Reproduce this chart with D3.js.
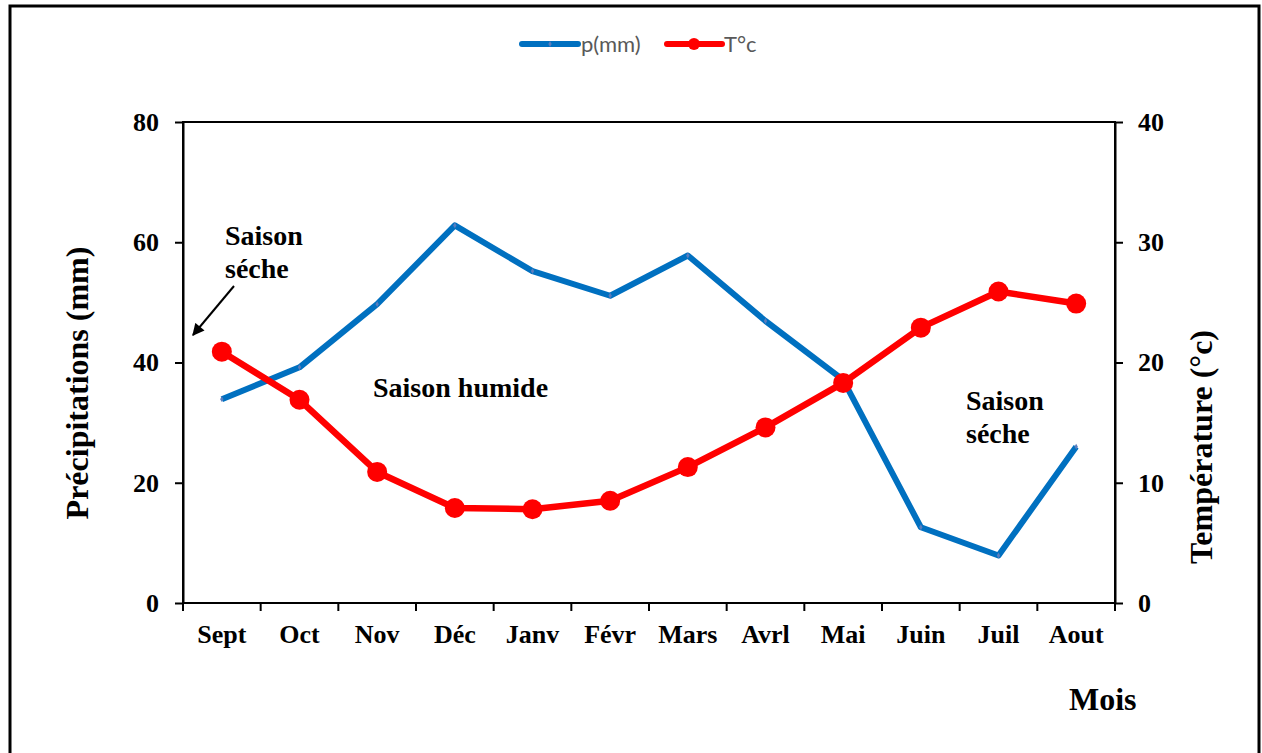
<!DOCTYPE html>
<html>
<head>
<meta charset="utf-8">
<script src="https://cdn.jsdelivr.net/npm/d3@7"></script>
<style>
  html, body { margin: 0; padding: 0; background: #fff; }
  svg { display: block; }
</style>
</head>
<body>
<svg id="chart" width="1262" height="753"></svg>
<script>
// Monthly climate data (hydrological year, September to August)
const months = ["Sept", "Oct", "Nov", "Déc", "Janv", "Févr", "Mars", "Avrl", "Mai", "Juin", "Juil", "Aout"];
const precipitation = [33.9, 39.2, 49.7, 62.8, 55.2, 51.1, 57.8, 46.9, 37.1, 12.6, 7.9, 26.0];
const temperature = [20.9, 16.9, 10.9, 7.9, 7.8, 8.5, 11.3, 14.6, 18.3, 22.9, 25.9, 24.9];
const precipTicks = [0, 20, 40, 60, 80];
const tempTicks = [0, 10, 20, 30, 40];

const svg = d3.select("#chart");
const serif = "'Liberation Serif', 'Times New Roman', serif";

const m = { left: 183, right: 1115, top: 122, bottom: 603 };

const x = d3.scaleBand().domain(months).range([m.left, m.right]).padding(0);
const yP = d3.scaleLinear().domain([0, 80]).range([m.bottom, m.top]);
const yT = d3.scaleLinear().domain([0, 40]).range([m.bottom, m.top]);

// Outer frame
svg.append("rect")
  .attr("x", 10).attr("y", 6).attr("width", 1249).attr("height", 780)
  .attr("fill", "none").attr("stroke", "#000").attr("stroke-width", 3);

// Plot area box
svg.append("rect")
  .attr("x", m.left).attr("y", m.top)
  .attr("width", m.right - m.left).attr("height", m.bottom - m.top)
  .attr("fill", "none").attr("stroke", "#000").attr("stroke-width", 2);

function styleAxis(g) {
  g.select(".domain").attr("stroke", "#000").attr("stroke-width", 2);
  g.selectAll(".tick line").attr("stroke", "#000").attr("stroke-width", 2);
  g.selectAll("text")
    .attr("font-family", serif).attr("font-weight", "bold")
    .attr("font-size", 26).attr("fill", "#000");
}

// Left axis (precipitation)
svg.append("g")
  .attr("transform", `translate(${m.left},0)`)
  .call(d3.axisLeft(yP).tickValues(precipTicks).tickSize(8).tickPadding(16).tickSizeOuter(0))
  .call(styleAxis);

// Right axis (temperature)
svg.append("g")
  .attr("transform", `translate(${m.right},0)`)
  .call(d3.axisRight(yT).tickValues(tempTicks).tickSize(8).tickPadding(15).tickSizeOuter(0))
  .call(styleAxis);

// Bottom axis: ticks at month boundaries, labels at month centres
const xAxis = svg.append("g").attr("transform", `translate(0,${m.bottom})`);
xAxis.append("line")
  .attr("x1", m.left).attr("x2", m.right).attr("y1", 0).attr("y2", 0)
  .attr("stroke", "#000").attr("stroke-width", 2);
const bounds = months.map(d => x(d)).concat([x(months[months.length - 1]) + x.bandwidth()]);
xAxis.selectAll("line.tk").data(bounds).join("line")
  .attr("class", "tk")
  .attr("x1", d => d).attr("x2", d => d).attr("y1", 0).attr("y2", 8)
  .attr("stroke", "#000").attr("stroke-width", 2);
xAxis.selectAll("text").data(months).join("text")
  .attr("x", d => x(d) + x.bandwidth() / 2)
  .attr("y", 40)
  .attr("text-anchor", "middle")
  .attr("font-family", serif).attr("font-weight", "bold")
  .attr("font-size", 26).attr("fill", "#000")
  .text(d => d);

// Axis titles
svg.append("text")
  .attr("transform", "translate(88,383) rotate(-90)")
  .attr("text-anchor", "middle")
  .attr("font-family", serif).attr("font-weight", "bold").attr("font-size", 32)
  .text("Précipitations (mm)");

svg.append("text")
  .attr("transform", "translate(1212,447) rotate(-90)")
  .attr("text-anchor", "middle")
  .attr("font-family", serif).attr("font-weight", "bold").attr("font-size", 32)
  .text("Température (°c)");

svg.append("text")
  .attr("x", 1069).attr("y", 710)
  .attr("font-family", serif).attr("font-weight", "bold").attr("font-size", 32)
  .text("Mois");

const cx = d => x(d) + x.bandwidth() / 2;

// Precipitation line
const lineP = d3.line().x((d, i) => cx(months[i])).y(d => yP(d));
svg.append("path")
  .datum(precipitation)
  .attr("d", lineP)
  .attr("fill", "none").attr("stroke", "#0070C0")
  .attr("stroke-width", 6).attr("stroke-linejoin", "round").attr("stroke-linecap", "butt");
svg.selectAll("path.pm").data(precipitation).join("path")
  .attr("class", "pm")
  .attr("transform", (d, i) => `translate(${cx(months[i])},${yP(d)})`)
  .attr("d", d3.symbol(d3.symbolDiamond, 10))
  .attr("fill", "#5A7DBE");

// Temperature line
const lineT = d3.line().x((d, i) => cx(months[i])).y(d => yT(d));
svg.append("path")
  .datum(temperature)
  .attr("d", lineT)
  .attr("fill", "none").attr("stroke", "#FF0000")
  .attr("stroke-width", 6.5).attr("stroke-linejoin", "round");
svg.selectAll("circle.tm").data(temperature).join("circle")
  .attr("class", "tm")
  .attr("cx", (d, i) => cx(months[i]))
  .attr("cy", d => yT(d))
  .attr("r", 10)
  .attr("fill", "#FF0000");

// Season annotations
function label(lines, x0, y0) {
  const t = svg.append("text")
    .attr("font-family", serif).attr("font-weight", "bold").attr("font-size", 28).attr("fill", "#000");
  lines.forEach((s, i) => t.append("tspan").attr("x", x0).attr("y", y0 + i * 33).text(s));
}
label(["Saison", "séche"], 225, 245);
label(["Saison humide"], 373, 397);
label(["Saison", "séche"], 966, 410);

// Arrow pointing to the left axis
svg.append("defs").append("marker")
  .attr("id", "arrowhead")
  .attr("viewBox", "0 0 10 10").attr("refX", 9).attr("refY", 5)
  .attr("markerWidth", 14).attr("markerHeight", 12)
  .attr("markerUnits", "userSpaceOnUse")
  .attr("orient", "auto")
  .append("path").attr("d", "M0,0 L10,5 L0,10 Z").attr("fill", "#000");
svg.append("line")
  .attr("x1", 234).attr("y1", 286).attr("x2", 193).attr("y2", 335)
  .attr("stroke", "#000").attr("stroke-width", 2)
  .attr("marker-end", "url(#arrowhead)");

// Legend
const legend = svg.append("g").attr("font-family", "Lato, 'Open Sans', sans-serif").attr("font-size", 22).attr("fill", "#595959");
legend.append("line").attr("x1", 522).attr("x2", 578).attr("y1", 44).attr("y2", 44)
  .attr("stroke", "#0070C0").attr("stroke-width", 6).attr("stroke-linecap", "round");
legend.append("path").attr("transform", "translate(550,44)")
  .attr("d", d3.symbol(d3.symbolDiamond, 10)).attr("fill", "#5A7DBE");
legend.append("text").attr("x", 581).attr("y", 52).text("p(mm)");
legend.append("line").attr("x1", 667).attr("x2", 722).attr("y1", 44).attr("y2", 44)
  .attr("stroke", "#FF0000").attr("stroke-width", 6).attr("stroke-linecap", "round");
legend.append("circle").attr("cx", 694).attr("cy", 44).attr("r", 6).attr("fill", "#FF0000");
legend.append("text").attr("x", 724).attr("y", 52).text("T°c");
</script>
</body>
</html>
